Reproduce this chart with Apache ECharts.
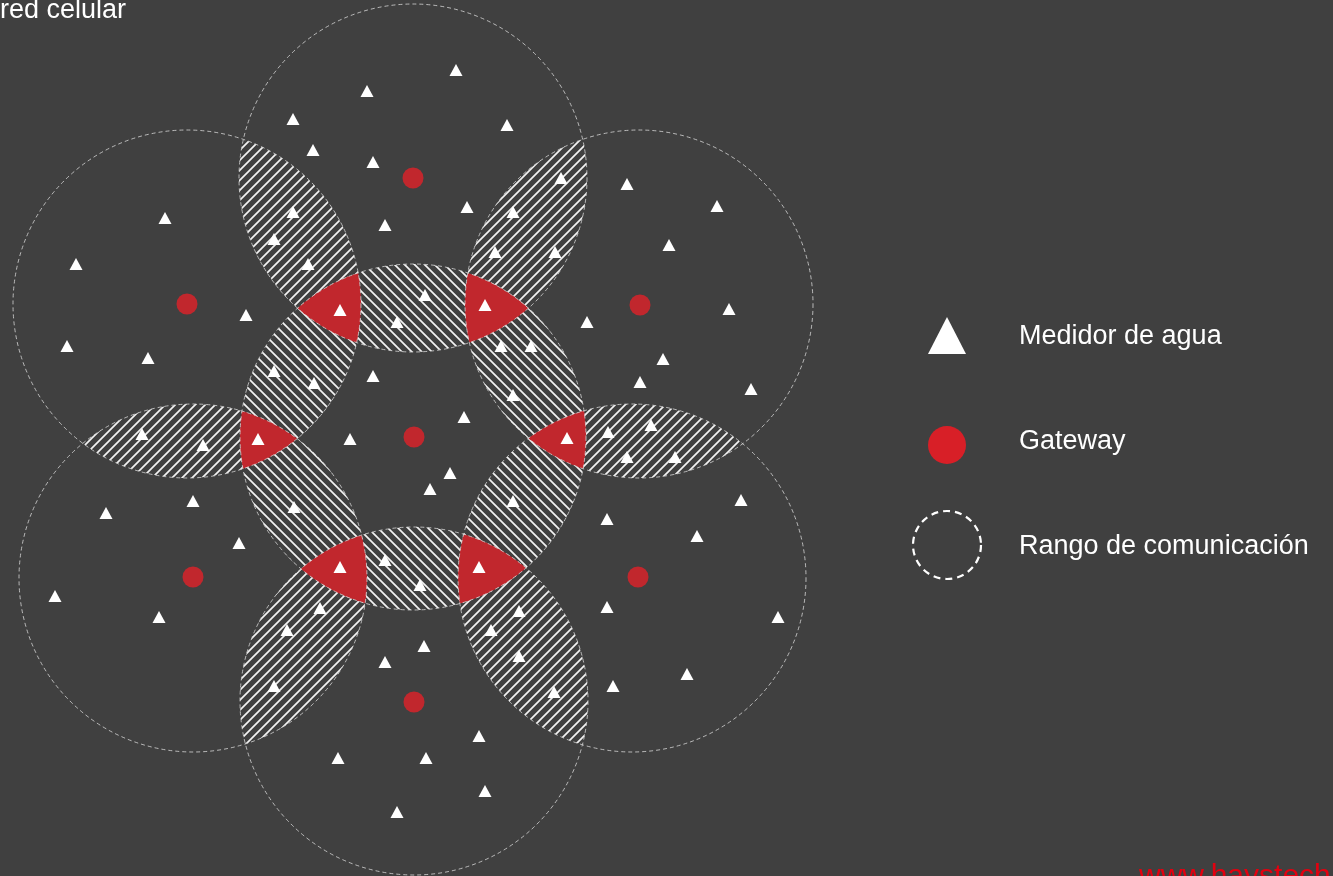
<!DOCTYPE html>
<html><head><meta charset="utf-8">
<script src="https://cdn.jsdelivr.net/npm/echarts@6/dist/echarts.min.js"></script>
<style>html,body{margin:0;padding:0;background:#404040;}#c{width:1333px;height:876px;}</style>
</head><body><div id="c"></div>
<script>
// ---------------- data ----------------
const titleText = 'red celular';
const watermarkText = 'www.haystech.com';
const legendLabels = ['Medidor de agua', 'Gateway', 'Rango de comunicación'];

// gateways (one per cell)
const gatewayX = [413, 187, 640, 414, 193, 638, 414];
const gatewayY = [178, 304, 305, 437, 577, 577, 702];

// communication ranges (circle centre and radius)
const rangeX = [413, 187, 639, 413, 193, 632, 414];
const rangeY = [178, 304, 304, 437, 578, 578, 701];
const rangeR = [174, 174, 174, 173, 174, 174, 174];

// overlapping pairs of ranges and triple overlaps
const pairA = [0, 0, 0, 1, 1, 2, 2, 3, 3, 3, 4, 5];
const pairB = [1, 2, 3, 3, 4, 3, 5, 4, 5, 6, 6, 6];
const tripleA = [0, 0, 1, 2, 3, 3];
const tripleB = [1, 2, 3, 3, 4, 5];
const tripleC = [3, 3, 4, 5, 6, 6];

// water meters
const meterX = [367, 293, 313, 373, 165, 76, 293, 274, 308, 385, 456, 507, 467, 561, 513, 495, 555, 627, 717, 669,
  246, 67, 148, 340, 397, 274, 314, 373, 142, 203, 258, 350, 193, 106, 239, 294, 340, 385,
  425, 485, 501, 531, 513, 587, 729, 663, 640, 751, 464, 567, 608, 651, 627, 675, 450, 430, 513, 741, 607, 697, 479, 420,
  55, 159, 320, 287, 274, 385, 338, 397,
  519, 491, 424, 519, 554, 607, 778, 687, 613, 479, 426, 485];
const meterY = [91, 119, 150, 162, 218, 264, 212, 239, 264, 225, 70, 125, 207, 178, 212, 252, 252, 184, 206, 245,
  315, 346, 358, 310, 322, 371, 383, 376, 434, 445, 439, 439, 501, 513, 543, 507, 567, 560,
  295, 305, 346, 346, 395, 322, 309, 359, 382, 389, 417, 438, 432, 425, 457, 457, 473, 489, 501, 500, 519, 536, 567, 585,
  596, 617, 608, 630, 686, 662, 758, 812,
  611, 630, 646, 656, 692, 607, 617, 674, 686, 736, 758, 791];

// ---------------- geometry helpers ----------------
function circlePoly(i, n) {
  n = n || 360;
  const pts = [];
  for (let k = 0; k < n; k++) {
    const t = 2 * Math.PI * k / n;
    pts.push([rangeX[i] + rangeR[i] * Math.cos(t), rangeY[i] + rangeR[i] * Math.sin(t)]);
  }
  return pts;
}
function clip(subject, clipPoly) {
  let out = subject;
  const m = clipPoly.length;
  for (let j = 0; j < m; j++) {
    const a = clipPoly[j], b = clipPoly[(j + 1) % m];
    const ex = b[0] - a[0], ey = b[1] - a[1];
    const side = p => ex * (p[1] - a[1]) - ey * (p[0] - a[0]);
    const inp = out; out = [];
    if (!inp.length) break;
    for (let k = 0; k < inp.length; k++) {
      const p = inp[k], q = inp[(k + 1) % inp.length];
      const sp = side(p), sq = side(q);
      if (sp >= 0) out.push(p);
      if ((sp >= 0) !== (sq >= 0)) {
        const t = sp / (sp - sq);
        out.push([p[0] + t * (q[0] - p[0]), p[1] + t * (q[1] - p[1])]);
      }
    }
  }
  return out;
}
function region(idxs) {
  let poly = circlePoly(idxs[0], 360);
  for (let k = 1; k < idxs.length; k++) poly = clip(poly, circlePoly(idxs[k], 360));
  return poly;
}
function makeHatch(dir) {
  const s = 10, c = document.createElement('canvas');
  c.width = s; c.height = s;
  const g = c.getContext('2d');
  g.strokeStyle = 'rgba(242,242,242,1)';
  g.lineWidth = 1.7;
  g.beginPath();
  if (dir === '/') {
    g.moveTo(-1, s + 1); g.lineTo(s + 1, -1);
    g.moveTo(-2, 2); g.lineTo(2, -2);
    g.moveTo(s - 2, s + 2); g.lineTo(s + 2, s - 2);
  } else {
    g.moveTo(-1, -1); g.lineTo(s + 1, s + 1);
    g.moveTo(s - 2, -2); g.lineTo(s + 2, 2);
    g.moveTo(-2, s - 2); g.lineTo(2, s + 2);
  }
  g.stroke();
  return c;
}
const hatchSlash = makeHatch('/');
const hatchBack = makeHatch('\\');
const CENTER_CELL = 3;

const FONT = '"Liberation Sans", Arial, Helvetica, sans-serif';

const chart = echarts.init(document.getElementById('c'), null, { renderer: 'canvas' });
chart.setOption({
  backgroundColor: '#404040',
  animation: false,
  grid: { left: 0, right: 0, top: 0, bottom: 0 },
  xAxis: { type: 'value', min: 0, max: 1333, show: false },
  yAxis: { type: 'value', min: 0, max: 876, inverse: true, show: false },
  graphic: [
    { type: 'text', x: 0, y: 11, style: { text: titleText, fill: '#ffffff', font: '27px ' + FONT, verticalAlign: 'middle' } },
    { type: 'text', x: 1139, y: 877, style: { text: watermarkText, fill: '#e3000f', font: '30px ' + FONT, verticalAlign: 'middle' } },
    { type: 'polygon', shape: { points: [[947, 317], [928, 354], [966, 354]] }, style: { fill: '#ffffff' } },
    { type: 'circle', shape: { cx: 947, cy: 445, r: 19 }, style: { fill: '#d81f27' } },
    { type: 'circle', shape: { cx: 947, cy: 545, r: 34 }, style: { fill: 'none', stroke: '#ffffff', lineWidth: 2.2, lineDash: [7, 5] } },
    { type: 'text', x: 1019, y: 337, style: { text: legendLabels[0], fill: '#ffffff', font: '27px ' + FONT, verticalAlign: 'middle' } },
    { type: 'text', x: 1019, y: 442, style: { text: legendLabels[1], fill: '#ffffff', font: '27px ' + FONT, verticalAlign: 'middle' } },
    { type: 'text', x: 1019, y: 547, style: { text: legendLabels[2], fill: '#ffffff', font: '27px ' + FONT, verticalAlign: 'middle' } }
  ],
  series: [
    {
      name: 'Solapamiento', type: 'custom', z: 1, silent: true,
      data: pairA.map((a, i) => [a, pairB[i]]),
      renderItem: function (params, api) {
        const a = api.value(0), b = api.value(1);
        const pts = region([a, b]).map(p => api.coord(p));
        const useBack = (a === CENTER_CELL || b === CENTER_CELL);
        return { type: 'polygon', shape: { points: pts },
          style: { fill: { image: useBack ? hatchBack : hatchSlash, repeat: 'repeat' }, stroke: null } };
      }
    },
    {
      name: 'Triple', type: 'custom', z: 2, silent: true,
      data: tripleA.map((a, i) => [a, tripleB[i], tripleC[i]]),
      renderItem: function (params, api) {
        const pts = region([api.value(0), api.value(1), api.value(2)]).map(p => api.coord(p));
        return { type: 'polygon', shape: { points: pts }, style: { fill: '#c1272d', stroke: null } };
      }
    },
    {
      name: legendLabels[2], type: 'custom', z: 3, silent: true,
      data: rangeX.map((x, i) => [x, rangeY[i], rangeR[i]]),
      renderItem: function (params, api) {
        const c = api.coord([api.value(0), api.value(1)]);
        const r = api.size([api.value(2), 0])[0];
        return { type: 'circle', shape: { cx: c[0], cy: c[1], r: r },
          style: { fill: null, stroke: 'rgba(215,215,215,0.8)', lineWidth: 1, lineDash: [4, 3] } };
      }
    },
    {
      name: legendLabels[1], type: 'scatter', z: 4, silent: true,
      symbol: 'circle', symbolSize: 21,
      itemStyle: { color: '#c1272d', opacity: 1 },
      data: gatewayX.map((x, i) => [x, gatewayY[i]])
    },
    {
      name: legendLabels[0], type: 'scatter', z: 5, silent: true,
      symbol: 'triangle', symbolSize: [13, 12],
      itemStyle: { color: '#ffffff', opacity: 1 },
      data: meterX.map((x, i) => [x, meterY[i]])
    }
  ]
});
</script>
</body></html>
